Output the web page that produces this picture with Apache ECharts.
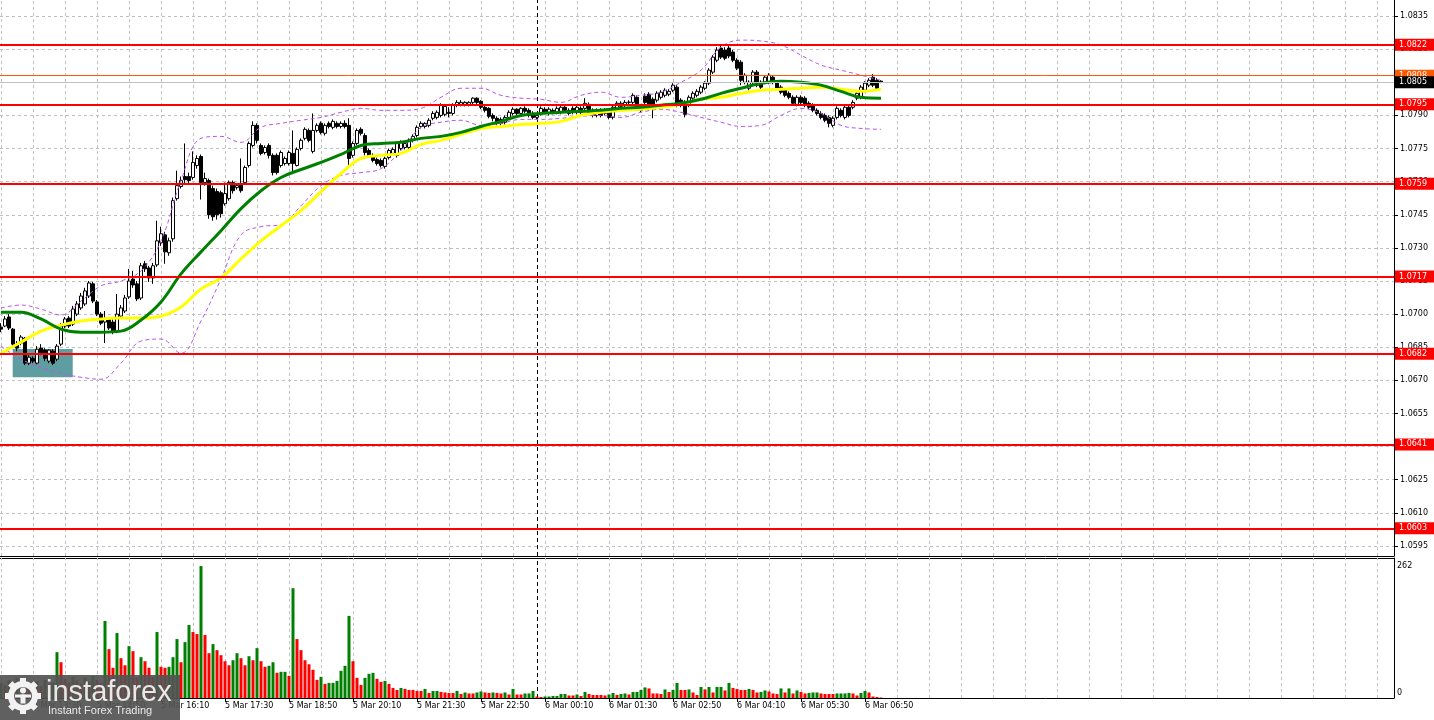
<!DOCTYPE html>
<html><head><meta charset="utf-8">
<script src="https://cdn.jsdelivr.net/npm/echarts@6/dist/echarts.min.js"></script>
<style>html,body{margin:0;padding:0;background:#fff}#c{width:1434px;height:720px}</style>
</head><body><div id="c"></div>
<script>
// ---- DATA (EURUSD M5, 5 Mar 12:50 -> 6 Mar 07:10) ----
const openP = [
1.06941,1.06946,1.06987,1.06932,1.06864,1.06869,1.06891,1.06778,1.06800,1.06778,
1.06846,1.06837,1.06787,1.06832,1.06796,1.06864,1.06946,1.06982,1.06955,1.07000,
1.07028,1.07046,1.07082,1.07137,1.07055,1.07000,1.06964,1.06978,1.06964,1.06923,
1.06991,1.07014,1.07078,1.07159,1.07137,1.07073,1.07228,1.07209,1.07164,1.07223,
1.07323,1.07359,1.07278,1.07341,1.07523,1.07578,1.07623,1.07623,1.07619,1.07673,
1.07714,1.07596,1.07605,1.07569,1.07555,1.07550,1.07500,1.07523,1.07596,1.07573,
1.07591,1.07596,1.07673,1.07764,1.07855,1.07764,1.07732,1.07764,1.07719,1.07719,
1.07673,1.07682,1.07682,1.07728,1.07673,1.07750,1.07796,1.07832,1.07737,1.07832,
1.07864,1.07819,1.07864,1.07846,1.07864,1.07850,1.07864,1.07855,1.07719,1.07773,
1.07837,1.07809,1.07741,1.07719,1.07700,1.07696,1.07669,1.07709,1.07728,1.07719,
1.07750,1.07755,1.07755,1.07787,1.07809,1.07850,1.07850,1.07855,1.07887,1.07891,
1.07900,1.07905,1.07914,1.07909,1.07946,1.07950,1.07950,1.07950,1.07959,1.07978,
1.07964,1.07937,1.07932,1.07900,1.07887,1.07882,1.07869,1.07891,1.07909,1.07928,
1.07909,1.07932,1.07923,1.07909,1.07891,1.07909,1.07928,1.07909,1.07923,1.07914,
1.07914,1.07937,1.07909,1.07932,1.07914,1.07932,1.07932,1.07950,1.07923,1.07900,
1.07923,1.07909,1.07914,1.07891,1.07932,1.07941,1.07946,1.07959,1.07959,1.07982,
1.07923,1.07987,1.07996,1.07973,1.07969,1.07982,1.07991,1.07996,1.08014,1.08028,
1.07969,1.07959,1.07946,1.07978,1.07991,1.08005,1.08023,1.08046,1.08096,1.08150,
1.08205,1.08196,1.08205,1.08187,1.08150,1.08141,1.08050,1.08023,1.08050,1.08096,
1.08050,1.08050,1.08050,1.08073,1.08050,1.08028,1.08014,1.08000,1.07982,1.07950,
1.07982,1.07978,1.07955,1.07946,1.07923,1.07909,1.07900,1.07891,1.07855,1.07891,
1.07923,1.07891,1.07937,1.07937,1.07978,1.07982,1.08014,1.08037,1.08073,1.08059,
1.08055];
const closeP = [
1.06932,1.06978,1.06937,1.06864,1.06846,1.06896,1.06778,1.06805,1.06787,1.06841,
1.06823,1.06800,1.06837,1.06778,1.06855,1.06946,1.06978,1.06946,1.07023,1.07046,
1.07082,1.07105,1.07141,1.07059,1.07000,1.06959,1.06978,1.06937,1.06918,1.07000,
1.07028,1.07073,1.07150,1.07132,1.07069,1.07219,1.07205,1.07164,1.07219,1.07332,
1.07364,1.07282,1.07332,1.07514,1.07582,1.07605,1.07609,1.07605,1.07687,1.07705,
1.07596,1.07614,1.07450,1.07441,1.07450,1.07455,1.07546,1.07596,1.07559,1.07582,
1.07559,1.07664,1.07773,1.07855,1.07787,1.07728,1.07755,1.07719,1.07641,1.07641,
1.07732,1.07705,1.07732,1.07682,1.07746,1.07787,1.07837,1.07787,1.07832,1.07855,
1.07823,1.07855,1.07850,1.07873,1.07850,1.07864,1.07850,1.07705,1.07773,1.07832,
1.07819,1.07732,1.07719,1.07696,1.07682,1.07673,1.07705,1.07741,1.07746,1.07773,
1.07778,1.07773,1.07787,1.07805,1.07846,1.07864,1.07864,1.07878,1.07909,1.07914,
1.07946,1.07941,1.07909,1.07946,1.07959,1.07959,1.07959,1.07959,1.07978,1.07959,
1.07937,1.07923,1.07896,1.07887,1.07864,1.07864,1.07891,1.07914,1.07928,1.07909,
1.07932,1.07919,1.07900,1.07891,1.07900,1.07932,1.07909,1.07928,1.07909,1.07932,
1.07937,1.07923,1.07923,1.07914,1.07937,1.07914,1.07955,1.07914,1.07900,1.07923,
1.07900,1.07923,1.07891,1.07937,1.07955,1.07955,1.07959,1.07960,1.07991,1.07932,
1.07937,1.07959,1.07937,1.07932,1.08000,1.08005,1.08014,1.08009,1.08037,1.07946,
1.07946,1.07905,1.07982,1.08000,1.08009,1.08028,1.08046,1.08105,1.08164,1.08196,
1.08164,1.08159,1.08169,1.08150,1.08114,1.08059,1.08082,1.08050,1.08096,1.08037,
1.08028,1.08073,1.08082,1.08050,1.08023,1.08005,1.07991,1.07982,1.07955,1.07982,
1.07959,1.07946,1.07937,1.07923,1.07909,1.07891,1.07878,1.07864,1.07887,1.07932,
1.07900,1.07937,1.07900,1.07959,1.08000,1.08028,1.08046,1.08059,1.08037,1.08023,
1.08050];
const highP = [
1.06959,1.06991,1.07000,1.06937,1.06878,1.06905,1.06896,1.06814,1.06809,1.06855,
1.06864,1.06846,1.06841,1.06841,1.06864,1.06959,1.06987,1.06991,1.07037,1.07059,
1.07096,1.07119,1.07150,1.07146,1.07064,1.07009,1.07014,1.06987,1.06987,1.07091,
1.07041,1.07087,1.07205,1.07196,1.07150,1.07232,1.07241,1.07219,1.07232,1.07423,
1.07396,1.07373,1.07346,1.07528,1.07650,1.07623,1.07773,1.07641,1.07737,1.07719,
1.07723,1.07641,1.07614,1.07582,1.07569,1.07559,1.07596,1.07605,1.07605,1.07591,
1.07705,1.07673,1.07782,1.07873,1.07864,1.07773,1.07764,1.07773,1.07728,1.07728,
1.07741,1.07714,1.07741,1.07832,1.07755,1.07796,1.07846,1.07841,1.07909,1.07864,
1.07873,1.07864,1.07873,1.07882,1.07873,1.07873,1.07878,1.07887,1.07782,1.07841,
1.07846,1.07819,1.07750,1.07728,1.07709,1.07705,1.07714,1.07750,1.07755,1.07782,
1.07787,1.07782,1.07796,1.07814,1.07855,1.07873,1.07869,1.07887,1.07919,1.07923,
1.07955,1.07950,1.07937,1.07955,1.07969,1.07969,1.07964,1.07964,1.07982,1.07982,
1.07969,1.07946,1.07937,1.07909,1.07896,1.07891,1.07900,1.07923,1.07937,1.07932,
1.07937,1.07941,1.07932,1.07919,1.07905,1.07941,1.07937,1.07937,1.07932,1.07941,
1.07950,1.07946,1.07932,1.07941,1.07946,1.07941,1.07978,1.07959,1.07932,1.07932,
1.07932,1.07932,1.07923,1.07946,1.07964,1.07964,1.07969,1.07969,1.08000,1.07991,
1.07946,1.08000,1.08005,1.07982,1.08009,1.08014,1.08023,1.08019,1.08046,1.08037,
1.07978,1.07969,1.07991,1.08009,1.08019,1.08037,1.08055,1.08114,1.08173,1.08209,
1.08223,1.08209,1.08214,1.08196,1.08159,1.08150,1.08091,1.08059,1.08105,1.08105,
1.08059,1.08082,1.08091,1.08082,1.08059,1.08037,1.08023,1.08009,1.07991,1.07991,
1.07991,1.07987,1.07964,1.07955,1.07932,1.07919,1.07909,1.07900,1.07896,1.07941,
1.07932,1.07946,1.07946,1.07969,1.08009,1.08037,1.08055,1.08069,1.08087,1.08069,
1.08059];
const lowP = [
1.06918,1.06941,1.06928,1.06850,1.06832,1.06859,1.06769,1.06769,1.06778,1.06773,
1.06814,1.06787,1.06778,1.06769,1.06787,1.06855,1.06937,1.06937,1.06946,1.06991,
1.07019,1.07037,1.07073,1.07050,1.06991,1.06950,1.06869,1.06928,1.06909,1.06914,
1.06982,1.07005,1.07069,1.07119,1.07059,1.07064,1.07191,1.07146,1.07137,1.07214,
1.07309,1.07228,1.07264,1.07328,1.07514,1.07569,1.07591,1.07591,1.07609,1.07659,
1.07519,1.07582,1.07432,1.07423,1.07428,1.07437,1.07491,1.07514,1.07546,1.07564,
1.07550,1.07587,1.07664,1.07755,1.07773,1.07719,1.07723,1.07705,1.07628,1.07632,
1.07664,1.07673,1.07673,1.07637,1.07669,1.07741,1.07787,1.07778,1.07728,1.07823,
1.07814,1.07809,1.07841,1.07837,1.07841,1.07841,1.07841,1.07664,1.07709,1.07764,
1.07809,1.07719,1.07709,1.07687,1.07673,1.07664,1.07659,1.07700,1.07719,1.07709,
1.07741,1.07746,1.07746,1.07778,1.07800,1.07841,1.07841,1.07846,1.07878,1.07882,
1.07891,1.07896,1.07891,1.07900,1.07937,1.07941,1.07941,1.07941,1.07950,1.07950,
1.07928,1.07914,1.07887,1.07873,1.07855,1.07855,1.07859,1.07882,1.07900,1.07900,
1.07900,1.07909,1.07891,1.07882,1.07882,1.07900,1.07905,1.07900,1.07905,1.07905,
1.07905,1.07914,1.07900,1.07905,1.07905,1.07905,1.07923,1.07905,1.07891,1.07891,
1.07891,1.07900,1.07882,1.07882,1.07923,1.07932,1.07937,1.07950,1.07950,1.07923,
1.07914,1.07950,1.07928,1.07887,1.07959,1.07973,1.07982,1.07987,1.08005,1.07937,
1.07937,1.07891,1.07937,1.07969,1.07982,1.07996,1.08014,1.08037,1.08087,1.08141,
1.08155,1.08150,1.08159,1.08141,1.08105,1.08037,1.08041,1.08014,1.08041,1.08028,
1.08019,1.08041,1.08041,1.08041,1.08014,1.07996,1.07982,1.07973,1.07946,1.07941,
1.07950,1.07937,1.07928,1.07914,1.07900,1.07882,1.07869,1.07846,1.07846,1.07882,
1.07891,1.07882,1.07891,1.07928,1.07969,1.07973,1.08005,1.08028,1.08028,1.08014,
1.08046];
const volumes = [
30,25,35,28,40,22,38,30,26,33,24,36,28,31,
91,71,38,30,42,35,28,40,33,44,36,30,
153,97,60,129,79,65,103,93,40,81,73,60,42,131,
62,60,62,81,117,71,111,145,131,127,262,
125,89,107,95,85,73,65,75,89,79,65,83,75,99,73,62,64,71,50,52,52,44,
218,117,95,75,67,56,36,42,28,30,30,34,54,64,
163,73,40,26,40,48,50,38,32,34,28,20,16,20,18,16,16,14,14,18,10,14,14,
12,11,10,10,14,8,11,9,9,11,13,11,10,11,10,9,11,7,18,7,7,9,9,14,
3,2,3,3,4,4,8,8,5,5,7,4,12,8,6,6,6,5,7,10,6,8,9,7,
12,12,16,21,19,9,9,8,17,12,16,30,16,16,17,11,6,22,17,22,11,22,22,15,30,20,18,16,
16,18,16,11,12,15,13,9,8,19,11,19,9,15,12,9,10,11,11,9,8,8,8,9,9,9,10,9,5,10,14,11,3,2,1];
// indicator readings every 5 bars
const indIdx = [0,5,10,15,20,25,30,35,40,45,50,55,60,65,70,75,80,85,90,95,100,105,110,115,120,125,130,135,140,145,150,155,160,165,170,175,180,185,190,195,200,205,210,215,220];
const maGreen = [1.07009,1.07009,1.06978,1.06932,1.06918,1.06918,1.06923,1.06973,1.07055,1.07182,
1.07282,1.07378,1.07478,1.07559,1.07619,1.07655,1.07687,1.07723,1.07764,1.07773,
1.07778,1.07796,1.07805,1.07823,1.07850,1.07873,1.07900,1.07909,1.07914,1.07919,
1.07923,1.07932,1.07937,1.07946,1.07955,1.07973,1.08000,1.08023,1.08046,1.08055,
1.08050,1.08037,1.08009,1.07982,1.07978];
const maYellow = [1.06823,1.06873,1.06923,1.06950,1.06969,1.06978,1.06982,1.06982,1.06991,1.07032,
1.07114,1.07164,1.07250,1.07332,1.07400,1.07469,1.07555,1.07637,1.07705,1.07719,
1.07728,1.07769,1.07787,1.07814,1.07841,1.07850,1.07859,1.07864,1.07873,1.07900,
1.07914,1.07923,1.07928,1.07937,1.07950,1.07973,1.07982,1.08000,1.08014,1.08019,
1.08023,1.08028,1.08019,1.08009,1.08019];
const bandUpper = [1.07028,1.07041,1.07023,1.06996,1.07059,1.07128,1.07150,1.07196,1.07332,1.07605,
1.07796,1.07805,1.07778,1.07846,1.07864,1.07878,1.07891,1.07914,1.07932,1.07923,
1.07923,1.07932,1.07982,1.08023,1.08023,1.07991,1.07978,1.07973,1.07959,1.07991,
1.08005,1.07982,1.07991,1.08005,1.08050,1.08105,1.08209,1.08241,1.08237,1.08219,
1.08173,1.08128,1.08105,1.08082,1.08059];
const bandLower = [1.06855,1.06796,1.06759,1.06732,1.06714,1.06705,1.06778,1.06878,1.06887,1.06823,
1.06969,1.07159,1.07359,1.07396,1.07405,1.07491,1.07582,1.07628,1.07641,1.07659,
1.07741,1.07846,1.07869,1.07878,1.07855,1.07864,1.07882,1.07882,1.07887,1.07896,
1.07900,1.07891,1.07914,1.07928,1.07914,1.07891,1.07869,1.07850,1.07855,1.07900,
1.07932,1.07909,1.07855,1.07841,1.07837];
const priceTicks = [1.0595,1.0610,1.0625,1.0640,1.0655,1.0670,1.0685,1.0700,1.0715,1.0730,1.0745,1.0760,1.0775,1.0790,1.0805,1.0820,1.0835];
const levels = [1.0822,1.0795,1.0759,1.0717,1.0682,1.0641,1.0603];
const askPrice = 1.0808;
const bidPrice = 1.0805;
const volTicks = [0, 262];
const timeLabelIdx = [8,24,40,56,72,88,104,120,136,152,168,184,200,216];
const timeLabels = ['5 Mar 13:30','5 Mar 14:50','5 Mar 16:10','5 Mar 17:30','5 Mar 18:50','5 Mar 20:10','5 Mar 21:30','5 Mar 22:50','6 Mar 00:10','6 Mar 01:30','6 Mar 02:50','6 Mar 04:10','6 Mar 05:30','6 Mar 06:50'];
const dayBreakIdx = 134;
const zoneBox = {x0: 2.925, x1: 17.93, top: 1.06842, bottom: 1.06714};

// ---- CHART ----
const chart = echarts.init(document.getElementById('c'), null, {renderer: 'canvas'});
const X_MIN = -0.25, X_MAX = 348.25;
const Y_MAX = 1.084227, Y_MIN = 1.059045;
const FONT = 'DejaVu Sans';
const gridStyle = {color: '#c0c0c0', width: 1, type: [3, 3]};

const candleData = openP.map((o, i) => [i, o, closeP[i], lowP[i], highP[i]]);
let prevColor = '#008000';
const volData = volumes.map((v, i) => {
  let c = prevColor;
  if (i > 0) { if (v > volumes[i-1]) c = '#008000'; else if (v < volumes[i-1]) c = '#ff0000'; }
  prevColor = c;
  return {value: [i, v], itemStyle: {color: c}};
});
const vGrid = [];
for (let i = 0; i <= 344; i += 8) vGrid.push({xAxis: i});
const hGrid = priceTicks.map(v => ({yAxis: v}));
const pair = (arr) => indIdx.map((x, k) => [x, arr[k]]);

function levelLabel(bg) {
  return {show: true, position: 'end', distance: 1, formatter: p => Number(p.value).toFixed(4),
    backgroundColor: bg, color: '#fff', fontFamily: FONT, fontSize: 8, lineHeight: 10, padding: [1, 8, 1, 4]};
}
function mline(z, lineStyle, data, label) {
  return {silent: true, z: z, precision: 6, animation: false, symbol: ['none', 'none'],
    label: label || {show: false}, lineStyle: lineStyle, data: data};
}

// gear logo pieces
const gear = [];
for (let k = 0; k < 8; k++) {
  gear.push({type: 'rect', x: 23, y: 696, rotation: k * Math.PI / 4, shape: {x: -3, y: -18, width: 6, height: 7}, style: {fill: '#f2f2f2'}, z: 101});
}

const option = {
  animation: false,
  backgroundColor: '#ffffff',
  grid: [
    {left: 0, right: 40, top: 0, height: 556},
    {left: 0, right: 40, top: 558, height: 140}
  ],
  xAxis: [
    {type: 'value', gridIndex: 0, min: X_MIN, max: X_MAX,
      axisLine: {show: true, onZero: false, lineStyle: {color: '#000', width: 1}},
      axisTick: {show: false}, axisLabel: {show: false}, splitLine: {show: false}},
    {type: 'value', gridIndex: 1, min: X_MIN, max: X_MAX,
      axisLine: {show: true, onZero: false, lineStyle: {color: '#000', width: 1}},
      axisTick: {show: true, customValues: timeLabelIdx, length: 4, lineStyle: {color: '#000'}},
      axisLabel: {show: true, customValues: timeLabelIdx, align: 'left', margin: 4,
        fontFamily: FONT, fontSize: 8, color: '#000',
        formatter: v => { const k = timeLabelIdx.indexOf(Math.round(v)); return k >= 0 ? timeLabels[k] : ''; }},
      splitLine: {show: false}},
    {type: 'value', gridIndex: 1, position: 'top', min: X_MIN, max: X_MAX,
      axisLine: {show: true, onZero: false, lineStyle: {color: '#000', width: 1}},
      axisTick: {show: false}, axisLabel: {show: false}, splitLine: {show: false}}
  ],
  yAxis: [
    {type: 'value', gridIndex: 0, position: 'right', min: Y_MIN, max: Y_MAX,
      axisLine: {show: true, onZero: false, lineStyle: {color: '#000', width: 1}},
      axisTick: {show: true, customValues: priceTicks, length: 4, lineStyle: {color: '#000'}},
      axisLabel: {show: true, customValues: priceTicks, margin: 6, fontFamily: FONT, fontSize: 8, color: '#000',
        formatter: v => Number(v).toFixed(4)},
      splitLine: {show: false}},
    {type: 'value', gridIndex: 1, position: 'right', min: 0, max: 278,
      axisLine: {show: true, onZero: false, lineStyle: {color: '#000', width: 1}},
      axisTick: {show: false},
      axisLabel: {show: true, customValues: volTicks, margin: 3, fontFamily: FONT, fontSize: 8, color: '#000',
        formatter: v => v === 0 ? '{z|0}' : String(v),
        rich: {z: {fontFamily: FONT, fontSize: 8, color: '#000', padding: [0, 0, 10, 0]}}},
      splitLine: {show: false}}
  ],
  series: [
    {type: 'line', name: 'grid', xAxisIndex: 0, yAxisIndex: 0, data: [], silent: true,
      markLine: mline(1, gridStyle, vGrid.concat(hGrid))},
    {type: 'line', name: 'zone', xAxisIndex: 0, yAxisIndex: 0, data: [], silent: true,
      markArea: {silent: true, z: 2, itemStyle: {color: '#5f9ea0', opacity: 1},
        data: [[{coord: [zoneBox.x0, zoneBox.top]}, {coord: [zoneBox.x1, zoneBox.bottom]}]]}},
    {type: 'line', name: 'daybreak', xAxisIndex: 0, yAxisIndex: 0, data: [], silent: true,
      markLine: mline(2, {color: '#000', width: 1, type: [4, 3]}, [{xAxis: dayBreakIdx}])},
    {type: 'candlestick', name: 'EURUSD', xAxisIndex: 0, yAxisIndex: 0, data: candleData, z: 3,
      barWidth: 3,
      itemStyle: {color: '#ffffff', color0: '#000000', borderColor: '#000000', borderColor0: '#000000', borderWidth: 1}},
    {type: 'line', name: 'bbUpper', xAxisIndex: 0, yAxisIndex: 0, data: pair(bandUpper), z: 4, smooth: 0.4,
      showSymbol: false, silent: true, lineStyle: {color: '#bb55ee', width: 1, type: [4, 3]}},
    {type: 'line', name: 'bbLower', xAxisIndex: 0, yAxisIndex: 0, data: pair(bandLower), z: 4, smooth: 0.4,
      showSymbol: false, silent: true, lineStyle: {color: '#bb55ee', width: 1, type: [4, 3]}},
    {type: 'line', name: 'maYellow', xAxisIndex: 0, yAxisIndex: 0, data: pair(maYellow), z: 5, smooth: 0.4,
      showSymbol: false, silent: true, lineStyle: {color: '#ffff00', width: 3}},
    {type: 'line', name: 'maGreen', xAxisIndex: 0, yAxisIndex: 0, data: pair(maGreen), z: 5, smooth: 0.4,
      showSymbol: false, silent: true, lineStyle: {color: '#008000', width: 3}},
    {type: 'line', name: 'ask', xAxisIndex: 0, yAxisIndex: 0, data: [], silent: true,
      markLine: mline(6, {color: '#ff5a00', width: 1, type: 'solid'}, [{yAxis: askPrice}], levelLabel('#ff5a00'))},
    {type: 'line', name: 'bid', xAxisIndex: 0, yAxisIndex: 0, data: [], silent: true,
      markLine: mline(7, {color: '#c0c0c0', width: 1, type: 'solid'}, [{yAxis: bidPrice}], levelLabel('#000000'))},
    {type: 'line', name: 'levels', xAxisIndex: 0, yAxisIndex: 0, data: [], silent: true,
      markLine: mline(8, {color: '#ff0000', width: 2, type: 'solid'}, levels.map(v => ({yAxis: v})), levelLabel('#ff0000'))},
    {type: 'line', name: 'volGrid', xAxisIndex: 1, yAxisIndex: 1, data: [], silent: true,
      markLine: mline(1, gridStyle, vGrid)},
    {type: 'line', name: 'volDaybreak', xAxisIndex: 1, yAxisIndex: 1, data: [], silent: true,
      markLine: mline(2, {color: '#000', width: 1, type: [4, 3]}, [{xAxis: dayBreakIdx}])},
    {type: 'bar', name: 'Volumes', xAxisIndex: 1, yAxisIndex: 1, data: volData, barWidth: 3, z: 3, silent: true}
  ],
  graphic: [
    {type: 'rect', shape: {x: 0, y: 675, width: 180, height: 45}, style: {fill: 'rgba(82,82,82,0.92)'}, z: 100},
    {type: 'circle', shape: {cx: 23, cy: 696, r: 12}, style: {fill: 'none', stroke: '#f2f2f2', lineWidth: 6}, z: 101},
    ...gear,
    {type: 'circle', shape: {cx: 23, cy: 690.5, r: 3}, style: {fill: '#f2f2f2'}, z: 102},
    {type: 'rect', shape: {x: 20.5, y: 694.5, width: 5, height: 9}, style: {fill: '#f2f2f2'}, z: 102},
    {type: 'rect', shape: {x: 15, y: 694.5, width: 16, height: 3}, style: {fill: '#f2f2f2'}, z: 102},
    {type: 'text', x: 46, y: 693, style: {text: 'instaforex', fill: '#e8e8e8', font: '29px "Liberation Sans"', textVerticalAlign: 'middle'}, z: 101},
    {type: 'text', x: 48, y: 711, style: {text: 'Instant Forex Trading', fill: '#e8e8e8', font: '11px "Liberation Sans"', textVerticalAlign: 'middle'}, z: 101}
  ]
};
chart.setOption(option);
</script>
</body></html>
